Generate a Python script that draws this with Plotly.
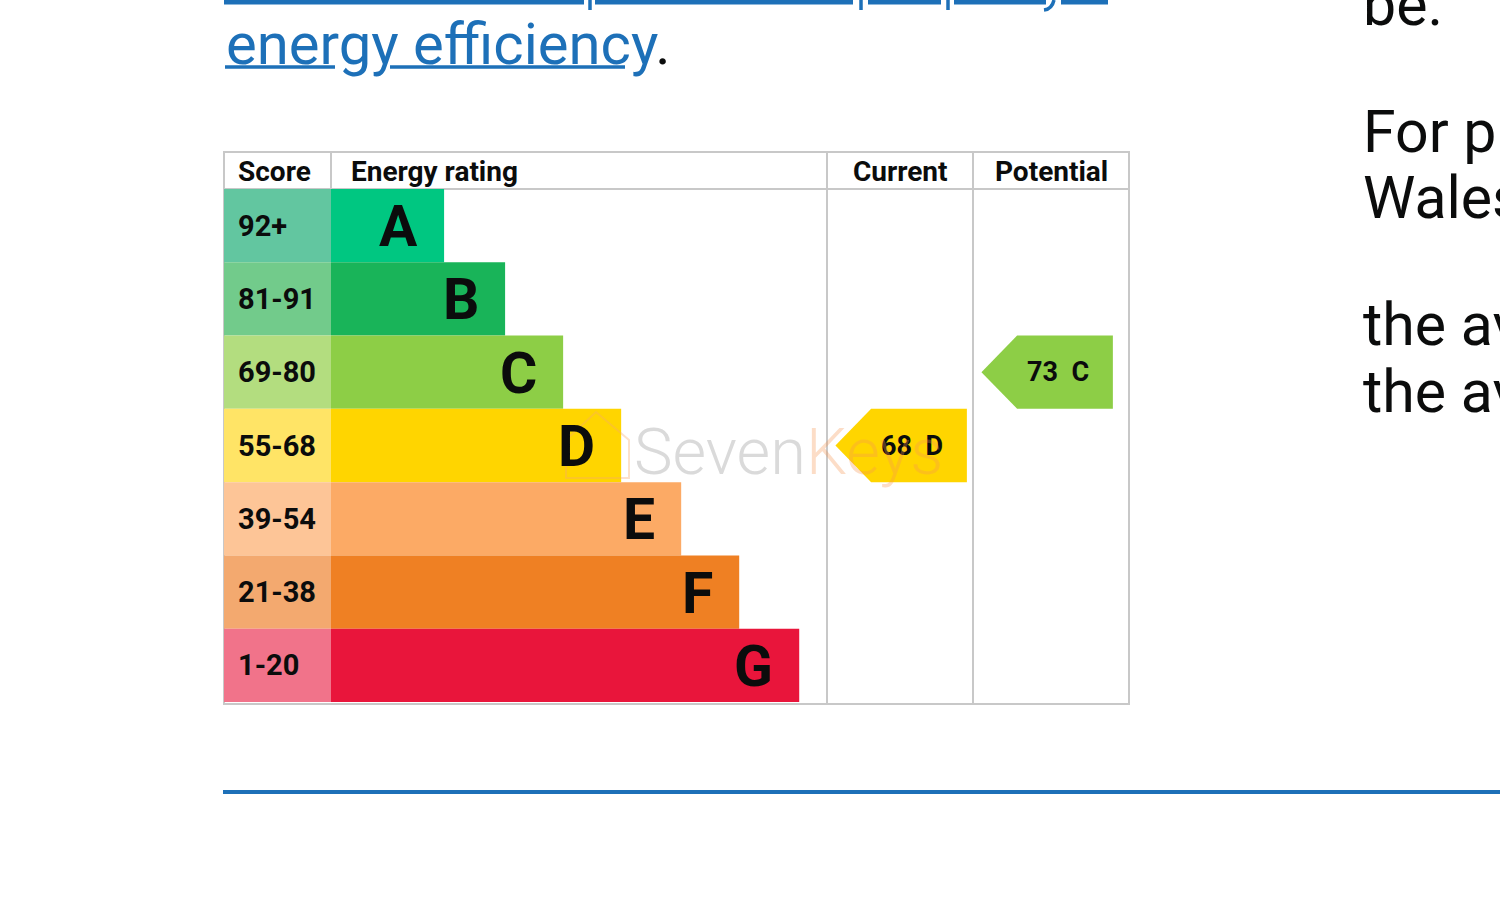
import plotly.graph_objects as go

# EPC bands
bands = ["A", "B", "C", "D", "E", "F", "G"]
score_ranges = ["92+", "81-91", "69-80", "55-68", "39-54", "21-38", "1-20"]
band_min = [92, 81, 69, 55, 39, 21, 1]
# bar length as % of the energy rating column
band_length = [22.8, 35.1, 46.8, 58.5, 70.6, 82.3, 94.4]
band_colors = ["#00c781", "#19b459", "#8dce46", "#ffd500", "#fcaa65", "#ef8023", "#e9153b"]
score_colors = ["#62c6a0", "#72cb8b", "#b3dd7f", "#ffe466", "#fdc597", "#f3a96f", "#f1738a"]

current_score = 68
potential_score = 73

headers = ["Score", "Energy rating", "Current", "Potential"]

side_lines = ["be.", "For properties in England and", "Wales:",
              "the average energy rating is D", "the average energy score is 60"]

BLUE = "#1d70b8"
INK = "#0b0c0c"
GRID = "#c8c8c8"
FONT = "Roboto"

W, H = 1500, 899


def band_of(score):
    for i, m in enumerate(band_min):
        if score >= m:
            return i
    return len(band_min) - 1


# table geometry (pixels) and axis units
px_unit = 4.96
tbl_left, tbl_right, tbl_top, head_bot, tbl_bot = 224, 1129, 152, 189, 704
col_energy, col_cur, col_pot = 331, 827, 973
rows_bot = 702
score_w = (col_energy - tbl_left) / px_unit
cur_l = (col_cur - col_energy) / px_unit
pot_l = (col_pot - col_energy) / px_unit
x2_max = (tbl_right - col_energy) / px_unit

fig = go.Figure()

# dummy trace so the pixel overlay axes exist
fig.add_trace(go.Scatter(x=[0, W], y=[0, H], mode="markers",
                         marker=dict(opacity=0), hoverinfo="skip",
                         showlegend=False, xaxis="x", yaxis="y"))

idx = list(range(len(bands)))

# score cells
fig.add_trace(go.Bar(y=idx, x=[score_w] * len(bands), base=-score_w, orientation="h",
                     width=1, marker=dict(color=score_colors, line=dict(width=0)),
                     hoverinfo="skip", showlegend=False, xaxis="x2", yaxis="y2"))
# rating bars
fig.add_trace(go.Bar(y=idx, x=band_length, base=0, orientation="h",
                     width=1, marker=dict(color=band_colors, line=dict(width=0)),
                     hoverinfo="skip", showlegend=False, xaxis="x2", yaxis="y2"))


def arrow(col_left, score):
    i = band_of(score)
    tip = col_left + 1.7
    flat = tip + 7.2
    right = tip + 26.5
    fig.add_trace(go.Scatter(
        x=[tip, flat, right, right, flat, tip],
        y=[i, i - 0.5, i - 0.5, i + 0.5, i + 0.5, i],
        fill="toself", fillcolor=band_colors[i], mode="lines",
        line=dict(width=0, color=band_colors[i]),
        hoverinfo="skip", showlegend=False, xaxis="x2", yaxis="y2"))
    fig.add_annotation(x=right, y=i, xref="x2", yref="y2", xanchor="right",
                       yanchor="middle", xshift=-22, showarrow=False,
                       text="<b>%d\u00a0\u00a0%s</b>" % (score, bands[i]),
                       font=dict(family=FONT, size=27, color=INK))


arrow(cur_l, current_score)
arrow(pot_l, potential_score)

# band letters and score labels
for i in idx:
    fig.add_annotation(x=band_length[i], y=i, xref="x2", yref="y2", xanchor="right",
                       yanchor="middle", xshift=-24, yshift=-1, showarrow=False,
                       text="<b>%s</b>" % bands[i],
                       font=dict(family=FONT, size=57, color=INK))
    fig.add_annotation(x=-score_w, y=i, xref="x2", yref="y2", xanchor="left",
                       yanchor="middle", xshift=12, showarrow=False,
                       text="<b>%s</b>" % score_ranges[i],
                       font=dict(family=FONT, size=29, color=INK))

# table lines
shapes = []
ln = dict(color=GRID, width=2)
shapes.append(dict(type="rect", x0=tbl_left, x1=tbl_right, y0=tbl_top, y1=tbl_bot, line=ln))
shapes.append(dict(type="line", x0=tbl_left, x1=tbl_right, y0=head_bot, y1=head_bot, line=ln))
shapes.append(dict(type="line", x0=col_energy, x1=col_energy, y0=tbl_top, y1=head_bot, line=ln))
for cx in (col_cur, col_pot):
    shapes.append(dict(type="line", x0=cx, x1=cx, y0=tbl_top, y1=tbl_bot, line=ln))
# page rule and link underlines
shapes.append(dict(type="line", x0=223, x1=W, y0=792, y1=792, line=dict(color=BLUE, width=4)))
for a, b in [(225, 335), (390, 625)]:
    shapes.append(dict(type="line", x0=a, x1=b, y0=67, y1=67, line=dict(color=BLUE, width=3.5)))
for a, b in [(224, 584), (595, 853), (868, 941), (954, 1046), (1061, 1108)]:
    shapes.append(dict(type="line", x0=a, x1=b, y0=2, y1=2, line=dict(color=BLUE, width=5)))
for sx in (590, 861, 948):
    shapes.append(dict(type="line", x0=sx, x1=sx, y0=0, y1=10, line=dict(color=BLUE, width=3.5)))
shapes.append(dict(type="path", path="M 1054 0 Q 1052 9 1044 10", line=dict(color=BLUE, width=3.5)))
for s in shapes:
    s.update(xref="x", yref="y", layer="below")
fig.update_layout(shapes=shapes)

# watermark house outline
fig.add_shape(type="path", xref="x", yref="y", layer="above",
              path="M 566 478 L 566 440 L 596 412 L 629 440 L 629 478 Z",
              line=dict(color="rgba(245,170,110,0.35)", width=2))

# header texts
head_x = [236, 349, (col_cur + col_pot) / 2, (col_pot + tbl_right) / 2]
head_anchor = ["left", "left", "center", "center"]
for t, hx, ha in zip(headers, head_x, head_anchor):
    fig.add_annotation(x=hx, y=(tbl_top + head_bot) / 2 + 1, xref="x", yref="y",
                       xanchor=ha, yanchor="middle", showarrow=False,
                       text="<b>%s</b>" % t, font=dict(family=FONT, size=28, color=INK))

# watermark
fig.add_annotation(x=788, y=452, xref="x", yref="y", xanchor="center", yanchor="middle",
                   showarrow=False,
                   text="<span style='color:rgba(140,140,140,0.32)'>Seven</span>"
                        "<span style='color:rgba(245,150,80,0.32)'>Keys</span>",
                   font=dict(family=FONT, size=65, weight=300))

# surrounding page text
fig.add_annotation(x=224, y=44, xref="x", yref="y", xanchor="left", yanchor="middle",
                   showarrow=False,
                   text="<span style='color:%s'>energy efficiency</span>." % BLUE,
                   font=dict(family=FONT, size=58, color=INK))
side_y = [4, 131, 197, 324, 391]
for t, sy in zip(side_lines, side_y):
    fig.add_annotation(x=1361, y=sy, xref="x", yref="y", xanchor="left", yanchor="middle",
                       showarrow=False, text=t,
                       font=dict(family=FONT, size=59, color=INK))

hidden = dict(showgrid=False, zeroline=False, showticklabels=False, ticks="", showline=False)
fig.update_layout(
    width=W, height=H,
    margin=dict(l=0, r=0, t=0, b=0),
    paper_bgcolor="white", plot_bgcolor="rgba(0,0,0,0)",
    showlegend=False, barmode="overlay",
    xaxis=dict(range=[0, W], domain=[0, 1], **hidden),
    yaxis=dict(range=[H, 0], domain=[0, 1], **hidden),
    xaxis2=dict(range=[-score_w, x2_max],
                domain=[tbl_left / W, tbl_right / W],
                anchor="y2", **hidden),
    yaxis2=dict(range=[len(bands) - 0.5, -0.5],
                domain=[(H - rows_bot) / H, (H - head_bot) / H],
                anchor="x2", **hidden),
)

# drop the default page margin so the figure sits at the window corner
fig.write_html("out.html", config={"displayModeBar": False},
               post_script="document.body.style.margin='0';document.body.style.overflow='hidden';")
